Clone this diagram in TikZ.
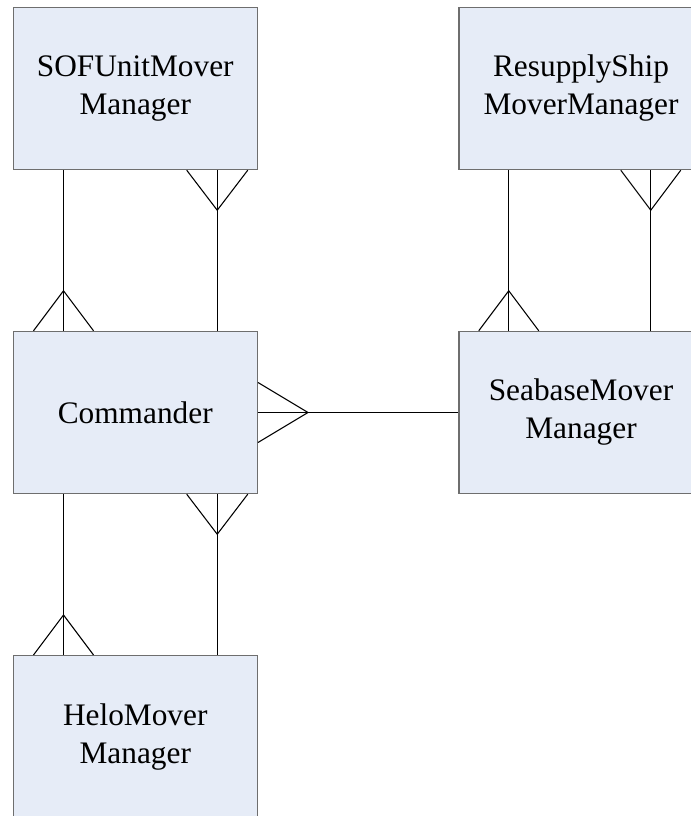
\documentclass[tikz,border=0pt]{standalone}
\usepackage{fontspec}
\setmainfont{Liberation Serif}
\usetikzlibrary{calc}
\definecolor{boxfill}{RGB}{230,236,247}
\definecolor{boxline}{RGB}{110,110,110}
\tikzset{
  entity/.style={draw=boxline, line width=1.1pt, fill=boxfill, rectangle,
    minimum width=183pt, minimum height=121.5pt, inner sep=0pt,
    align=center, font=\fontsize{23.5}{28.5}\selectfont},
  link/.style={draw=black, line width=0.8pt},
}
\begin{document}
\begin{tikzpicture}[x=0.75pt, y=-0.75pt]
  \useasboundingbox (0,0) rectangle (691,816);
  \clip (0,0) rectangle (691,816);

  % entities
  \node[entity] (sof)  at (135.25, 88.5)  {SOFUnitMover\\Manager};
  \node[entity] (cmd)  at (135.25, 412.5) {Commander};
  \node[entity] (helo) at (135.25, 736.7) {HeloMover\\Manager};
  \node[entity] (res)  at (581, 88.5)     {ResupplyShip\\MoverManager};
  \node[entity] (sea)  at (581, 412.5)    {SeabaseMover\\Manager};

  % attachment points on the box edges
  \coordinate (sofL) at ($(sof.south west)+(51,0)$);
  \coordinate (sofR) at ($(sof.south east)+(-40.75,0)$);
  \coordinate (cmdTL) at ($(cmd.north west)+(51,0)$);
  \coordinate (cmdTR) at ($(cmd.north east)+(-40.75,0)$);
  \coordinate (cmdBL) at ($(cmd.south west)+(51,0)$);
  \coordinate (cmdBR) at ($(cmd.south east)+(-40.75,0)$);
  \coordinate (heloL) at ($(helo.north west)+(51,0)$);
  \coordinate (heloR) at ($(helo.north east)+(-40.75,0)$);
  \coordinate (resL) at ($(res.south west)+(50.5,0)$);
  \coordinate (resR) at ($(res.south west)+(192.5,0)$);
  \coordinate (seaL) at ($(sea.north west)+(50.5,0)$);
  \coordinate (seaR) at ($(sea.north west)+(192.5,0)$);
  \coordinate (cmdE) at (cmd.east);

  % straight connector lines
  \draw[link] (sofL) -- (cmdTL);
  \draw[link] (sofR) -- (cmdTR);
  \draw[link] (resL) -- (seaL);
  \draw[link] (resR) -- (seaR);
  \draw[link] (cmdBL) -- (heloL);
  \draw[link] (cmdBR) -- (heloR);
  \draw[link] (cmdE) -- (sea.west);

  % crow's feet (many ends)
  \draw[link] ($(sofR)+(-30.5,0)$) -- ($(sofR)+(0,40)$) -- ($(sofR)+(30.5,0)$);
  \draw[link] ($(cmdTL)+(-30,0)$) -- ($(cmdTL)+(0,-40)$) -- ($(cmdTL)+(30,0)$);
  \draw[link] ($(resR)+(-30,0)$) -- ($(resR)+(0,40)$) -- ($(resR)+(30,0)$);
  \draw[link] ($(seaL)+(-30,0)$) -- ($(seaL)+(0,-40)$) -- ($(seaL)+(30,0)$);
  \draw[link] ($(cmdE)+(0,-30)$) -- ($(cmdE)+(50,0)$) -- ($(cmdE)+(0,30)$);
  \draw[link] ($(cmdBR)+(-30.5,0)$) -- ($(cmdBR)+(0,40)$) -- ($(cmdBR)+(30.5,0)$);
  \draw[link] ($(heloL)+(-30,0)$) -- ($(heloL)+(0,-40)$) -- ($(heloL)+(30,0)$);
\end{tikzpicture}
\end{document}
